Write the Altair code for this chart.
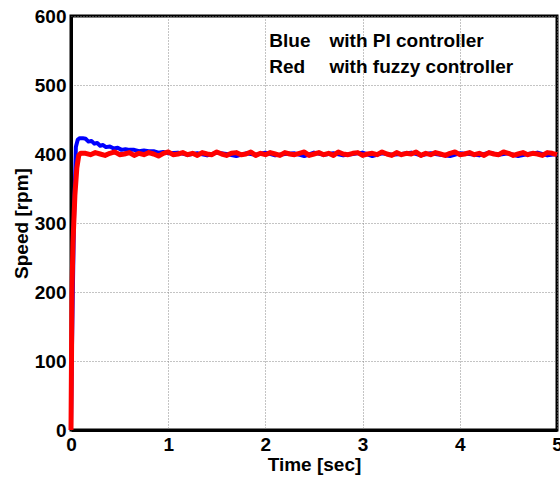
import altair as alt
import pandas as pd

# PI controller (blue)
blue_t = [0, 0.01, 0.03, 0.05, 0.07, 0.09, 0.12, 0.15, 0.18, 0.21, 0.24, 0.27, 0.30, 0.33,
          0.36, 0.40, 0.44, 0.48, 0.52, 0.56, 0.60, 0.65, 0.70, 0.75, 0.80, 0.85, 0.90, 0.95, 1.0]
blue_v = [0, 120, 300, 410, 421, 423, 423, 422, 418, 419, 415, 416, 412, 413,
          410, 411, 408, 409, 406, 407, 406, 406, 404, 405, 404, 404, 402, 403, 401]
blue_tail = [402, 399, 401, 398, 402, 400, 397, 401, 399, 402,
             398, 400, 401, 397, 402, 399, 401, 398, 400, 402,
             397, 401, 399, 400, 402, 398, 401, 399, 397, 401,
             400, 398, 402, 399, 401, 397, 400, 402, 398, 400]

# fuzzy controller (red)
red_t = [0, 0.01, 0.02, 0.04, 0.06, 0.08, 0.10]
red_v = [0, 200, 270, 340, 380, 398, 401]
red_tail = [401, 399, 402, 400, 398, 401, 403, 399, 400, 402,
            398, 401, 399, 402, 400, 397, 401, 403, 399, 400,
            402, 399, 401, 398, 402, 400, 399, 403, 400, 398,
            401, 402, 399, 400, 403, 398, 401, 399, 402, 400,
            398, 402, 400, 399, 401, 403, 398, 400, 402, 399,
            401, 398, 403, 400, 399, 401, 402, 398, 400, 401,
            399, 403, 400, 398, 402, 399, 401, 400, 403, 398,
            401, 399, 402, 400, 398, 401, 403, 399, 400, 402,
            399, 401, 398, 402, 400, 399, 403, 401, 398, 400,
            402, 399, 401, 400, 398, 402, 401, 399]

x_ticks = [0, 1, 2, 3, 4, 5]
y_ticks = [0, 100, 200, 300, 400, 500, 600]

legend_col1 = ["Blue", "Red"]
legend_col2 = ["with PI controller", "with fuzzy controller"]
legend_y = [555, 517]
legend_x1 = [2.04, 2.04]
legend_x2 = [2.66, 2.66]

bt = blue_t + [round(1.1 + 0.1 * i, 2) for i in range(len(blue_tail))]
bv = blue_v + blue_tail
rt = red_t + [round(0.15 + 0.05 * i, 2) for i in range(len(red_tail))]
rv = red_v + red_tail

df = pd.concat([
    pd.DataFrame({"t": bt, "v": bv, "s": "PI"}),
    pd.DataFrame({"t": rt, "v": rv, "s": "Fuzzy"}),
])

FONT = "Liberation Sans"
FS = 19

xs = alt.Scale(domain=[0, 5], nice=False, zero=False)
ys = alt.Scale(domain=[0, 600], nice=False)

x_axis = alt.Axis(values=x_ticks, format="d", title="Time [sec]", grid=True, ticks=False,
                  labelFont=FONT, labelFontSize=FS, labelFontWeight="bold", labelColor="black",
                  titleFont=FONT, titleFontSize=FS, titleFontWeight="bold", titleColor="black",
                  labelPadding=5, titlePadding=1, labelFlush=False, labelOverlap=False,
                  domainColor="black", domainWidth=3,
                  gridColor="#888888", gridDash=[1, 2], gridWidth=1)
y_axis = alt.Axis(values=y_ticks, format="d", title="Speed [rpm]", grid=True, ticks=False,
                  labelFont=FONT, labelFontSize=FS, labelFontWeight="bold", labelColor="black",
                  titleFont=FONT, titleFontSize=FS, titleFontWeight="bold", titleColor="black",
                  labelPadding=5, titlePadding=3, labelFlush=False, labelOverlap=False,
                  domainColor="black", domainWidth=3,
                  gridColor="#888888", gridDash=[1, 2], gridWidth=1)

lines = alt.Chart(df).mark_line(strokeJoin="round").encode(
    x=alt.X("t:Q", scale=xs, axis=x_axis),
    y=alt.Y("v:Q", scale=ys, axis=y_axis),
    color=alt.Color("s:N", scale=alt.Scale(domain=["PI", "Fuzzy"], range=["#0000FF", "#FF0000"]), legend=None),
    strokeWidth=alt.StrokeWidth("s:N", scale=alt.Scale(domain=["PI", "Fuzzy"], range=[4, 5]), legend=None),
    detail="s:N",
    order="t:Q",
)

leg = pd.DataFrame({"x1": legend_x1, "x2": legend_x2, "y": legend_y,
                    "c1": legend_col1, "c2": legend_col2})
txt1 = alt.Chart(leg).mark_text(align="left", baseline="alphabetic", font=FONT, fontSize=FS,
                                fontWeight="bold", color="black").encode(
    x=alt.X("x1:Q", scale=xs), y=alt.Y("y:Q", scale=ys), text="c1:N")
txt2 = alt.Chart(leg).mark_text(align="left", baseline="alphabetic", font=FONT, fontSize=FS,
                                fontWeight="bold", color="black").encode(
    x=alt.X("x2:Q", scale=xs), y=alt.Y("y:Q", scale=ys), text="c2:N")

chart = alt.layer(lines, txt1, txt2).properties(
    width=486, height=414,
    autosize=alt.AutoSizeParams(type="none"),
    padding={"left": 71, "top": 16, "right": 3, "bottom": 48},
    background="white",
).configure_view(stroke="black", strokeWidth=3)

chart.save("out.html", embed_options={"renderer": "svg", "actions": False})
